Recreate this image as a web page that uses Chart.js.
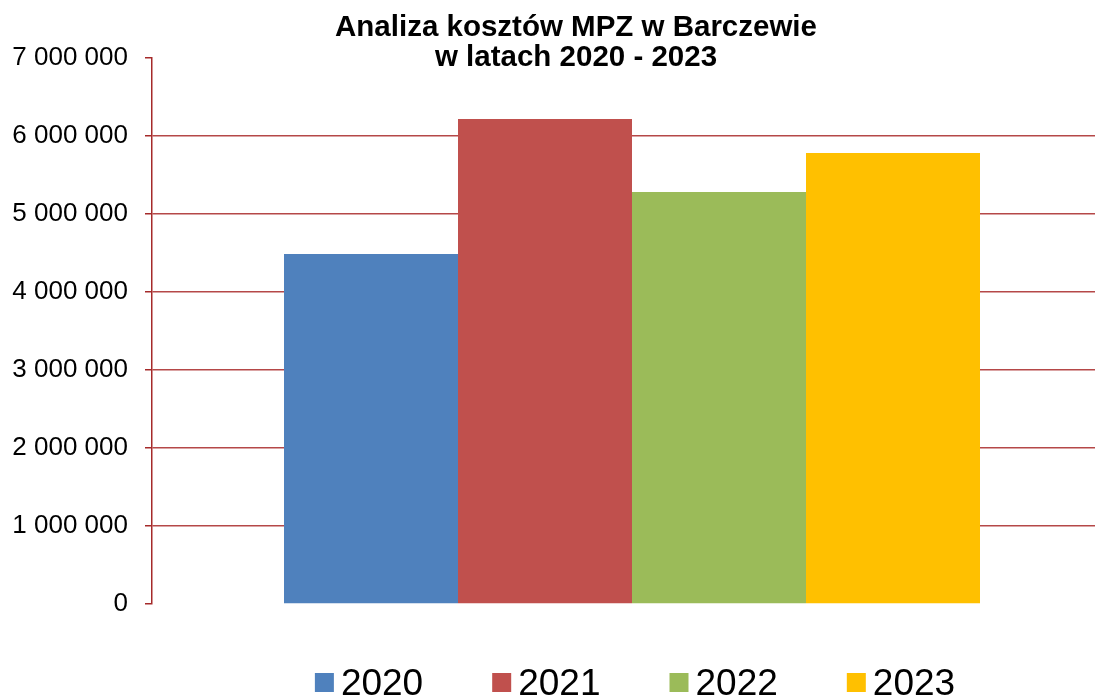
<!DOCTYPE html>
<html>
<head>
<meta charset="utf-8">
<title>Analiza kosztów MPZ w Barczewie</title>
<script src="https://cdn.jsdelivr.net/npm/chart.js@4"></script>
<style>
    html, body { margin: 0; padding: 0; background: #fff; overflow: hidden; }
    /* wykres jest szerszy niż okno - prawa krawędź jest ucięta jak w oryginale */
    #wrap { position: relative; width: 1112px; height: 698px; }
</style>
</head>
<body>
<div id="wrap"><canvas id="chart"></canvas></div>
<script>
// Dane z wykresu
const years = ['2020', '2021', '2022', '2023'];
const costs = [4487000, 6218000, 5282000, 5782000];
const barColors = ['#4F81BD', '#C0504D', '#9BBB59', '#FFC000'];
const titleLines = ['Analiza kosztów MPZ w Barczewie', 'w latach 2020 - 2023'];
const yMin = 0;
const yMax = 7000000;
const yStep = 1000000;

const fontFamily = '"Liberation Sans", Arial, Helvetica, sans-serif';
const axisRed = '#A52A2A';
const gridRed = '#B54848';

// Formatowanie liczb: 7 000 000
function formatNumber(v) {
    return String(v).replace(/\B(?=(\d{3})+(?!\d))/g, ' ');
}

// Tytuł (wyśrodkowany w oknie) i legenda pod wykresem
const chartTexts = {
    id: 'chartTexts',
    afterDraw(chart) {
        const ctx = chart.ctx;
        const area = chart.chartArea;
        ctx.save();

        // tytuł
        ctx.font = 'bold 29.5px ' + fontFamily;
        ctx.fillStyle = '#000';
        ctx.textAlign = 'center';
        ctx.textBaseline = 'alphabetic';
        const titleX = 576;
        titleLines.forEach((line, i) => {
            ctx.fillText(line, titleX, 36 + i * 30);
        });

        // legenda
        const box = 19, gap = 7, spacing = 69;
        const baseline = chart.height - 3;
        ctx.font = '37px ' + fontFamily;
        ctx.textAlign = 'left';
        const widths = chart.data.datasets.map(ds => box + gap + ctx.measureText(ds.label).width);
        const total = widths.reduce((a, b) => a + b, 0) + spacing * (widths.length - 1);
        let x = (area.left + area.right) / 2 - total / 2 + 3;

        chart.data.datasets.forEach((ds, i) => {
            ctx.fillStyle = ds.backgroundColor;
            ctx.fillRect(x, baseline - 22, box, box);
            ctx.fillStyle = '#000';
            ctx.fillText(ds.label, x + box + gap, baseline);
            x += widths[i] + spacing;
        });
        ctx.restore();
    }
};

const datasets = years.map((year, i) => ({
    label: year,
    data: [costs[i]],
    backgroundColor: barColors[i],
    borderWidth: 0,
    categoryPercentage: 0.725,
    barPercentage: 1.0
}));

const ctx = document.getElementById('chart').getContext('2d');
const chart = new Chart(ctx, {
    type: 'bar',
    data: {
        labels: [''],
        datasets: datasets
    },
    options: {
        responsive: true,
        maintainAspectRatio: false,
        animation: false,
        events: [],
        layout: {
            padding: { left: 0, right: 0, top: 58, bottom: 94 }
        },
        plugins: {
            legend: { display: false },
            tooltip: { enabled: false },
            title: { display: false }
        },
        scales: {
            x: {
                display: false
            },
            y: {
                min: yMin,
                max: yMax,
                border: { display: true, color: axisRed, width: 1.5 },
                grid: {
                    drawTicks: true,
                    tickLength: 7,
                    tickColor: axisRed,
                    lineWidth: 1.5,
                    color: c => (c.tick && (c.tick.value === yMin || c.tick.value === yMax)) ? 'rgba(0,0,0,0)' : gridRed
                },
                ticks: {
                    stepSize: yStep,
                    padding: 17,
                    color: '#000',
                    font: { family: fontFamily, size: 26 },
                    callback: v => formatNumber(v)
                },
                afterFit: scale => { scale.width = 152; }
            }
        }
    },
    plugins: [chartTexts]
});
</script>
</body>
</html>
